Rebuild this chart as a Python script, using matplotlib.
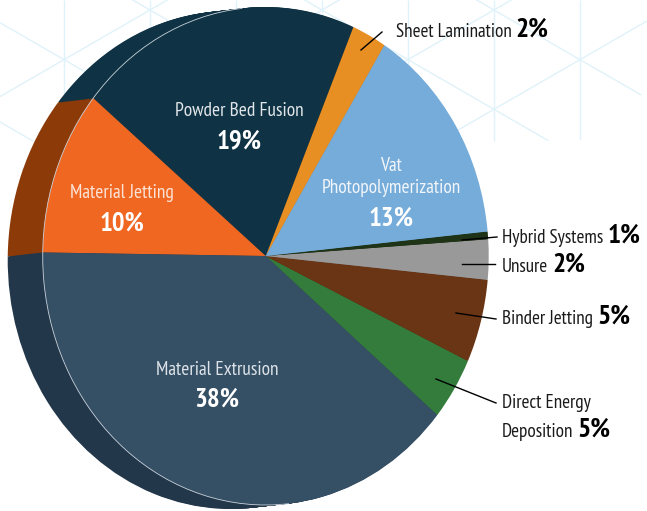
import numpy as np
import matplotlib
matplotlib.use('Agg')
import matplotlib.pyplot as plt
from matplotlib import font_manager
from matplotlib.patches import Arc, Polygon
from matplotlib.collections import LineCollection

# slices, counter-clockwise starting at the DED / Extrusion border
methods = ['Direct Energy\nDeposition', 'Binder Jetting', 'Unsure', 'Hybrid Systems',
           'Vat\nPhotopolymerization', 'Sheet Lamination', 'Powder Bed Fusion',
           'Material Jetting', 'Material Extrusion']
shares = [4.1, 5.4, 2.6, 0.5, 14.5, 2.5, 20.5, 10.7, 39.2]
pct_labels = ['5%', '5%', '2%', '1%', '13%', '2%', '19%', '10%', '38%']
colors = ['#347c3c', '#6a3514', '#999999', '#1f3316', '#76acd9',
          '#e88f24', '#0f3344', '#f06722', '#354f65']
side_colors = ['#245a2b', '#4e260e', '#707070', '#15230f', '#5a86ab',
               '#b56d18', '#0f3344', '#8b3a08', '#23374b']

W, H = 647, 511
CX, CY = 265.7, 256.0      # pie centre in pixels
RX, RY = 223.0, 249.0      # pie radii in pixels (slightly tall ellipse)
DEPTH = (-35.0, 4.0)       # extrusion offset in pixels (right, down)
START = -39.7

avail = {f.name for f in font_manager.fontManager.ttflist}
font = 'DejaVu Sans'
for name in ['Myriad Pro Condensed', 'PT Sans Narrow', 'Fira Sans Condensed',
             'Roboto Condensed', 'Open Sans Condensed', 'IBM Plex Sans Condensed',
             'Liberation Sans Narrow']:
    if name in avail:
        font = name
        break
plt.rcParams['font.family'] = [font, 'DejaVu Sans']

fig = plt.figure(figsize=(W / 100, H / 100), dpi=100)

# background lattice
bg = fig.add_axes([0, 0, 1, 1], zorder=0)
bg.set_xlim(0, W)
bg.set_ylim(H, 0)
bg.axis('off')
segs = []
for k in range(-6, 3):
    x = 494 + 86 * k
    segs.append([(x, 0), (x, H)])
slope = np.tan(np.radians(30))
for m in range(-8, 8):
    for s in (1, -1):
        y0 = 10 + 99.3 * m
        segs.append([(0, y0 + s * slope * (0 - 494)), (W, y0 + s * slope * (W - 494))])
lc = LineCollection(segs, colors='#e0f2fa', linewidths=1.0)
bg.add_collection(lc)
clip = Polygon([(0, 0), (W, 0), (W, 90), (590, 140), (0, 150)], closed=True,
               transform=bg.transData, visible=False)
bg.add_patch(clip)
lc.set_clip_path(clip)

# pie
ax = fig.add_axes([0, 0, 1, 1], zorder=1)
ax.patch.set_alpha(0)
ox, oy = DEPTH[0] / RX, -DEPTH[1] / RY
for t in np.linspace(1, 0.03, 30):
    ax.pie(shares, colors=side_colors, startangle=START, radius=1,
           center=(t * ox, t * oy), wedgeprops=dict(linewidth=0))
ax.pie(shares, colors=colors, startangle=START, radius=1, center=(0, 0),
       wedgeprops=dict(linewidth=0))
ax.add_patch(Arc((0, 0), 2, 2, theta1=96, theta2=276, color='#c9d2da', lw=0.6, zorder=5))
ax.set_aspect('auto')
ax.set_xlim(-CX / RX, (W - CX) / RX)
ax.set_ylim(-(H - CY) / RY, CY / RY)
ax.axis('off')

# labels (pixel coordinates)
tx = fig.add_axes([0, 0, 1, 1], zorder=3)
tx.patch.set_alpha(0)
tx.set_xlim(0, W)
tx.set_ylim(H, 0)
tx.axis('off')
renderer = fig.canvas.get_renderer()


def fit_size(text, target, weight='normal'):
    t = tx.text(0, 0, text, fontsize=10, fontweight=weight)
    w = t.get_window_extent(renderer).width
    t.remove()
    return 10 * target / w


fs_in = fit_size('Powder Bed Fusion', 128)
fs_in_b = fit_size('19%', 45, 'bold')
fs_out = fit_size('Sheet Lamination', 116)
fs_out_b = fit_size('2%', 33, 'bold')

inner = {
    6: (239, 116, 148, '#e2e6ea'),
    7: (122, 198, 231, '#fbe3d6'),
    4: (391, 193, 226, '#f2f6fa'),
    8: (217, 375, 407, '#dde3e8'),
}
for i, (x, yl, yp, c) in inner.items():
    lines = methods[i].split('\n')
    for j, line in enumerate(lines):
        tx.text(x, yl - 22 * (len(lines) - 1 - j), line, ha='center', va='baseline',
                fontsize=fs_in, color=c)
    tx.text(x, yp, pct_labels[i], ha='center', va='baseline', fontsize=fs_in_b,
            color='white', fontweight='bold')


def outer_label(x, y, i):
    lines = methods[i].split('\n')
    for j, line in enumerate(lines[:-1]):
        tx.text(x, y + 29 * j, line, ha='left', va='baseline', fontsize=fs_out, color='#1a1a1a')
    yl = y + 29 * (len(lines) - 1)
    t = tx.text(x, yl, lines[-1], ha='left', va='baseline', fontsize=fs_out, color='#1a1a1a')
    bb = t.get_window_extent(renderer)
    x1 = tx.transData.inverted().transform((bb.x1, 0))[0]
    tx.text(x1 + 4, yl, pct_labels[i], ha='left', va='baseline', fontsize=fs_out_b,
            fontweight='bold', color='black')


leaders = {
    5: ((361, 50), (382, 32), (396, 37)),
    3: ((462, 240), (497, 237), (502, 243)),
    2: ((462, 264), (495, 264), (502, 272)),
    1: ((456, 313), (496, 319), (502, 324)),
    0: ((436, 379), (496, 403), (502, 408)),
}
for i, (p0, p1, tpos) in leaders.items():
    tx.plot([p0[0], p1[0]], [p0[1], p1[1]], color='black', lw=1)
    outer_label(tpos[0], tpos[1], i)

fig.savefig('out.png', dpi=100)
